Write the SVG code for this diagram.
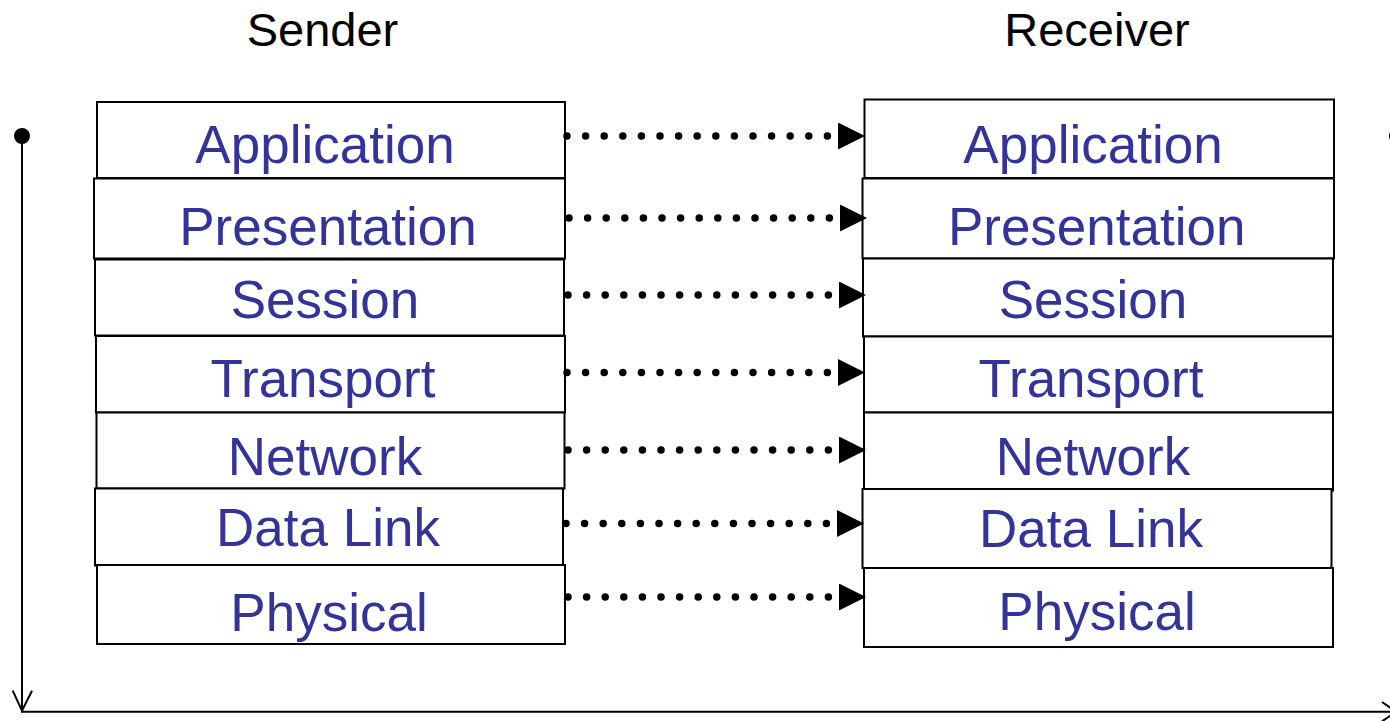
<svg xmlns="http://www.w3.org/2000/svg" width="1390" height="721" viewBox="0 0 1390 721">
<style>
.box{fill:#fff;stroke:#000;stroke-width:2}
.lbl{font-family:"Liberation Sans",Arial,sans-serif;font-size:53px;fill:#333399;text-anchor:middle}
.ttl{font-family:"Liberation Sans",Arial,sans-serif;font-size:47px;fill:#000;text-anchor:middle}
.dots{stroke:#000;stroke-width:7.5;stroke-linecap:round;stroke-dasharray:0 18.6;fill:none}
.axis{stroke:#000;stroke-width:2;fill:none}
</style>
<defs>
<marker id="tri" viewBox="0 0 27 27" markerWidth="27" markerHeight="27" refX="0" refY="13.5" orient="auto" markerUnits="userSpaceOnUse">
<path d="M0,0 L27,13.5 L0,27 Z" fill="#000"/>
</marker>
</defs>
<rect width="1390" height="721" fill="#fff"/>
<g id="titles">
<text class="ttl" x="322.5" y="46">Sender</text>
<text class="ttl" x="1097" y="46">Receiver</text>
</g>
<g id="axes">
<circle cx="22" cy="136" r="8" fill="#000"/>
<line class="axis" x1="22" y1="136" x2="22" y2="710"/>
<polyline class="axis" points="12.7,690.7 22,710.7 32,690.7"/>
<line class="axis" x1="21" y1="711.7" x2="1396" y2="711.7"/>
<polyline class="axis" points="1382,702 1396,711.7 1382,721.4"/>
<circle cx="1397" cy="136" r="8" fill="#000"/>
</g>
<g id="sender-application"><rect class="box" x="97" y="102" width="468" height="76"/><text class="lbl" x="325" y="162.7">Application</text></g>
<g id="sender-presentation"><rect class="box" x="94" y="178.5" width="471" height="80"/><text class="lbl" x="328" y="245">Presentation</text></g>
<g id="sender-session"><rect class="box" x="95" y="259.5" width="469" height="76"/><text class="lbl" x="325" y="318.3">Session</text></g>
<g id="sender-transport"><rect class="box" x="96" y="336" width="469" height="76.5"/><text class="lbl" x="323" y="396.7">Transport</text></g>
<g id="sender-network"><rect class="box" x="96.5" y="412.5" width="468" height="76"/><text class="lbl" x="325" y="475">Network</text></g>
<g id="sender-datalink"><rect class="box" x="95" y="488.5" width="468" height="77"/><text class="lbl" x="328" y="546">Data Link</text></g>
<g id="sender-physical"><rect class="box" x="97" y="565" width="468" height="79"/><text class="lbl" x="329" y="630.7">Physical</text></g>
<g id="receiver-application"><rect class="box" x="864.5" y="99.5" width="469.5" height="78.5"/><text class="lbl" x="1093" y="162.7">Application</text></g>
<g id="receiver-presentation"><rect class="box" x="862.5" y="178.5" width="471.5" height="80"/><text class="lbl" x="1096.7" y="245">Presentation</text></g>
<g id="receiver-session"><rect class="box" x="863" y="258.5" width="470" height="78"/><text class="lbl" x="1093" y="318.3">Session</text></g>
<g id="receiver-transport"><rect class="box" x="864" y="336.5" width="469" height="76"/><text class="lbl" x="1091" y="396.7">Transport</text></g>
<g id="receiver-network"><rect class="box" x="864" y="412.5" width="469" height="78"/><text class="lbl" x="1093" y="475">Network</text></g>
<g id="receiver-datalink"><rect class="box" x="862.5" y="489" width="469" height="79"/><text class="lbl" x="1091" y="546.7">Data Link</text></g>
<g id="receiver-physical"><rect class="box" x="864" y="568" width="469" height="79"/><text class="lbl" x="1097" y="630">Physical</text></g>
<g id="connectors">
<line class="dots" x1="567" y1="136" x2="838" y2="136" marker-end="url(#tri)"/>
<line class="dots" x1="569" y1="218" x2="840" y2="218" marker-end="url(#tri)"/>
<line class="dots" x1="568" y1="295" x2="839" y2="295" marker-end="url(#tri)"/>
<line class="dots" x1="567" y1="372.5" x2="838" y2="372.5" marker-end="url(#tri)"/>
<line class="dots" x1="568" y1="450" x2="839" y2="450" marker-end="url(#tri)"/>
<line class="dots" x1="566" y1="523.5" x2="837" y2="523.5" marker-end="url(#tri)"/>
<line class="dots" x1="568" y1="597" x2="839" y2="597" marker-end="url(#tri)"/>
</g>
</svg>
